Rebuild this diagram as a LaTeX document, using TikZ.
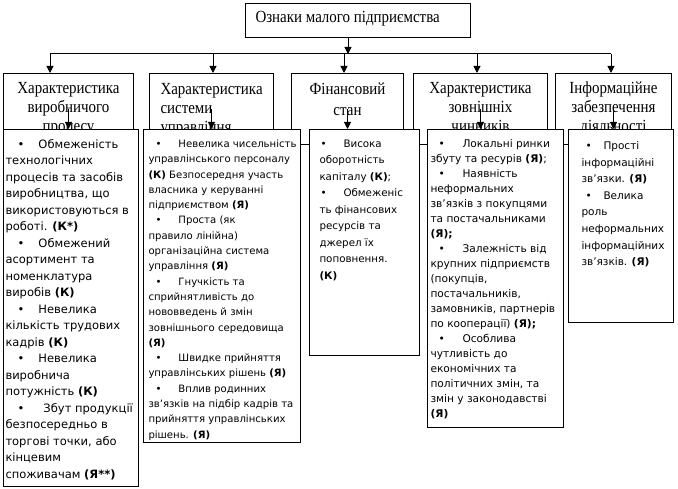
\documentclass[tikz,border=0pt]{standalone}
\usepackage{fontspec}
\setmainfont{Liberation Serif}[FakeStretch=0.88]
\newfontfamily\lstfont{DejaVu Sans}
\usetikzlibrary{arrows.meta}

% box content: width, height, alignment, first baseline, text
\newcommand{\pane}[5]{\parbox[t][#2][t]{#1}{#3\rule{0pt}{#4}#5}}
\newcommand{\lstindent}[1]{\leftskip=#1\relax\rightskip=0pt plus 1fil minus 20pt\relax\parindent=0pt\relax}
\newcommand{\itemdot}[2]{\makebox[#2][l]{\hspace*{#1}\textbullet}}

\begin{document}
\begin{tikzpicture}[x=1pt, y=-1pt,
        head/.style={draw, line width=1pt, inner sep=0pt, anchor=north west,
                     font=\fontsize{17}{19}\selectfont},
        grp/.style={draw, line width=1pt, inner sep=0pt, anchor=north west,
                    font=\fontsize{17}{19}\selectfont},
        lst/.style={draw, line width=1pt, fill=white, inner sep=0pt, anchor=north west},
        arr/.style={-{Triangle[width=7pt, length=7pt]}, line width=1pt}
    ]
        \useasboundingbox (0,0) rectangle (678,489);

        \node[head] (sign) at (245,3)
            {\pane{225pt}{34pt}{\leftskip=10pt\relax}{19pt}{Ознаки малого підприємства}};

        \node[grp] (g1) at (3,73)
            {\pane{130pt}{71pt}{\centering}{20pt}{Характеристика\\виробничого\\процесу}};
        \node[grp] (g2) at (149,73)
            {\pane{124pt}{71pt}{\raggedright\leftskip=11pt\relax}{21pt}{Характеристика\\системи\\управління}};
        \node[grp] (g3) at (291,73)
            {\pane{112pt}{71pt}{\centering}{21pt}{Фінансовий\\[2pt]стан}};
        \node[grp] (g4) at (413,73)
            {\pane{134pt}{71pt}{\centering}{20pt}{Характеристика\\зовнішніх\\чинників}};
        \node[grp] (g5) at (555,73)
            {\pane{116pt}{71pt}{\centering}{20pt}{Інформаційне\\забезпечення\\діяльності}};

        \node[lst, font=\lstfont\fontsize{11.5}{16.5}\selectfont] (d1) at (3,129)
            {\pane{135pt}{357pt}{\lstindent{2pt}}{19pt}{%
            \itemdot{12pt}{33pt}Обмеженість\\
            технологічних\\
            процесів та засобів\\
            виробництва, що\\
            використовуються в\\
            роботі. \textbf{(К*)}\\
            \itemdot{12pt}{33pt}Обмежений\\
            асортимент та\\
            номенклатура\\
            виробів \textbf{(К)}\\
            \itemdot{12pt}{33pt}Невелика\\
            кількість трудових\\
            кадрів \textbf{(К)}\\
            \itemdot{12pt}{33pt}Невелика\\
            виробнича\\
            потужність \textbf{(К)}\\
            \itemdot{12pt}{38pt}Збут продукції\\
            безпосередньо в\\
            торгові точки, або\\
            кінцевим\\
            споживачам \textbf{(Я**)}}};
        \node[lst, font=\lstfont\fontsize{10.1}{15.3}\selectfont] (d2) at (143,129)
            {\pane{157pt}{313pt}{\lstindent{5pt}}{18pt}{%
            \itemdot{7pt}{30pt}Невелика чисельність\\
            управлінського персоналу\\
            \textbf{(К)} Безпосередня участь\\
            власника у керуванні\\
            підприємством \textbf{(Я)}\\
            \itemdot{7pt}{30pt}Проста (як\\
            правило лінійна)\\
            організаційна система\\
            управління \textbf{(Я)}\\
            \itemdot{7pt}{30pt}Гнучкість та\\
            сприйнятливість до\\
            нововведень й змін\\
            зовнішнього середовища\\
            \textbf{(Я)}\\
            \itemdot{7pt}{30pt}Швидке прийняття\\
            управлінських рішень \textbf{(Я)}\\
            \itemdot{7pt}{30pt}Вплив родинних\\
            зв’язків на підбір кадрів та\\
            прийняття управлінських\\
            рішень. \textbf{(Я)}}};
        \node[lst, font=\lstfont\fontsize{10.3}{16.5}\selectfont] (d3) at (309,129)
            {\pane{110pt}{226pt}{\lstindent{10pt}}{18pt}{%
            \itemdot{1pt}{24pt}Висока\\
            оборотність\\
            капіталу \textbf{(К)};\\
            \itemdot{1pt}{24pt}Обмеженіс\\
            ть фінансових\\
            ресурсів та\\
            джерел їх\\
            поповнення.\\
            \textbf{(К)}}};
        \node[lst, font=\lstfont\fontsize{10.6}{15}\selectfont] (d4) at (427,129)
            {\pane{136pt}{298pt}{\lstindent{3pt}}{18pt}{%
            \itemdot{8pt}{32pt}Локальні ринки\\
            збуту та ресурів \textbf{(Я)};\\
            \itemdot{8pt}{32pt}Наявність\\
            неформальних\\
            зв’язків з покупцями\\
            та постачальниками\\
            \textbf{(Я);}\\
            \itemdot{8pt}{32pt}Залежність від\\
            крупних підприємств\\
            (покупців,\\
            постачальників,\\
            замовників, партнерів\\
            по кооперації) \textbf{(Я);}\\
            \itemdot{8pt}{32pt}Особлива\\
            чутливість до\\
            економічних та\\
            політичних змін, та\\
            змін у законодавстві\\
            \textbf{(Я)}}};
        \node[lst, font=\lstfont\fontsize{10.5}{16.6}\selectfont] (d5) at (568,129)
            {\pane{105pt}{193pt}{\lstindent{13pt}}{20pt}{%
            \itemdot{4pt}{22pt}Прості\\
            інформаційні\\
            зв’язки. \textbf{(Я)}\\
            \itemdot{4pt}{22pt}Велика\\
            роль\\
            неформальних\\
            інформаційних\\
            зв’язків. \textbf{(Я)}}};

        % bus under the title
        \coordinate (hub) at (348,54);
        \coordinate (k1) at (50,54);
        \coordinate (k2) at (213,54);
        \coordinate (k3) at (344,54);
        \coordinate (k4) at (477,54);
        \coordinate (k5) at (611,54);

        \draw[arr] (sign.south -| hub) -- (hub);
        \draw[line width=1pt] (k1) -- (k5);
        \foreach \k/\g in {k1/g1, k2/g2, k3/g3, k4/g4, k5/g5}
            \draw[arr] (\k) -- (\k |- \g.north);
        \foreach \i in {1,...,5}
            \draw[arr] (g\i.center) -- (g\i.center |- d\i.north);
    \end{tikzpicture}
\end{document}
